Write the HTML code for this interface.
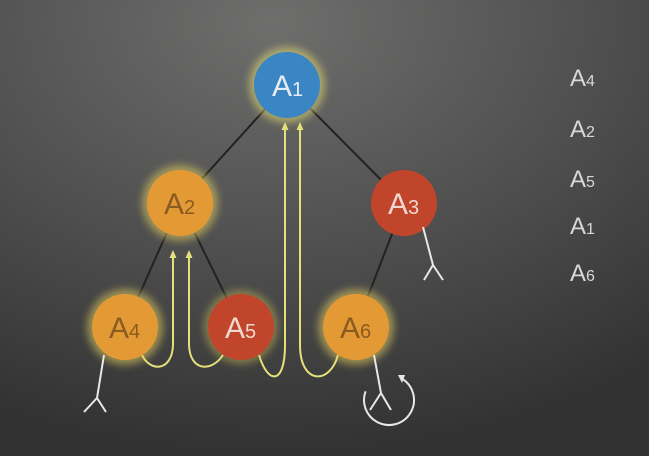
<!DOCTYPE html>
<html><head><meta charset="utf-8"><style>
html,body{margin:0;padding:0;width:649px;height:456px;overflow:hidden;background:#3a3b3a}
svg{display:block}
text{font-family:"Liberation Sans",sans-serif}
</style></head><body>
<svg width="649" height="456" viewBox="0 0 649 456">
<defs>
<radialGradient id="bg" cx="0.42" cy="0.05" r="0.95">
<stop offset="0" stop-color="#6e6e6d"/><stop offset="0.55" stop-color="#4d4e4d"/><stop offset="1" stop-color="#313231"/>
</radialGradient>
<filter id="glow" x="-50%" y="-50%" width="200%" height="200%"><feGaussianBlur stdDeviation="4"/></filter>
<marker id="ah" markerUnits="userSpaceOnUse" markerWidth="8" markerHeight="8" refX="4" refY="4" orient="auto"><path d="M0,0.5 L8,4 L0,7.5 z" fill="#e6e07a"/></marker>
</defs>
<rect width="649" height="456" fill="url(#bg)"/>
<g stroke="#222" stroke-width="2">
<line x1="287" y1="85" x2="180" y2="203"/><line x1="287" y1="85" x2="404" y2="203"/>
<line x1="180" y1="203" x2="125" y2="327"/><line x1="180" y1="203" x2="241" y2="327"/>
<line x1="404" y1="203" x2="356" y2="327"/>
</g>
<g fill="none" stroke="#e6e07a" stroke-width="2" marker-end="url(#ah)">
<path d="M142,355 C150,372 172,372 173,345 L173,254"/>
<path d="M223,355 C212,372 190,372 189,345 L189,254"/>
<path d="M259,355 C268,385 285,385 285,345 L285,126"/>
<path d="M338,355 C330,385 300,385 300,345 L300,126"/>
</g>
<g>
<g><circle cx="287" cy="85" r="38" fill="#e8e070" opacity="0.55" filter="url(#glow)"/><circle cx="287" cy="85" r="33" fill="#3a86c4"/><text x="272" y="96" font-size="30" fill="#e8ecf2">A<tspan font-size="20">1</tspan></text></g>
<g><circle cx="180" cy="203" r="38" fill="#e8d060" opacity="0.55" filter="url(#glow)"/><circle cx="180" cy="203" r="33" fill="#e39a35"/><text x="164" y="214" font-size="30" fill="#8a5a20">A<tspan font-size="20">2</tspan></text></g>
<g><circle cx="404" cy="203" r="33" fill="#c0452a"/><text x="388" y="214" font-size="30" fill="#f0d8d0">A<tspan font-size="20">3</tspan></text></g>
<g><circle cx="125" cy="327" r="38" fill="#e8d060" opacity="0.55" filter="url(#glow)"/><circle cx="125" cy="327" r="33" fill="#e39a35"/><text x="109" y="338" font-size="30" fill="#8a5a20">A<tspan font-size="20">4</tspan></text></g>
<g><circle cx="241" cy="327" r="37" fill="#e8d060" opacity="0.4" filter="url(#glow)"/><circle cx="241" cy="327" r="33" fill="#c0452a"/><text x="225" y="338" font-size="30" fill="#f0d8d0">A<tspan font-size="20">5</tspan></text></g>
<g><circle cx="356" cy="327" r="38" fill="#e8d060" opacity="0.55" filter="url(#glow)"/><circle cx="356" cy="327" r="33" fill="#e39a35"/><text x="340" y="338" font-size="30" fill="#8a5a20">A<tspan font-size="20">6</tspan></text></g>
</g>
<g fill="none" stroke="#e8e8e8" stroke-width="2">
<path d="M104,355 L97,398 M97,398 L84,412 M97,398 L106,412"/>
<path d="M423,227 L433,265 M433,265 L424,280 M433,265 L443,280"/>
<path d="M374,355 L381,393 M381,393 L370,410 M381,393 L391,410"/>
<circle cx="389" cy="400" r="25" stroke-dasharray="113.4 200" transform="rotate(-60 389 400)"/>
</g>
<path d="M398,375 L405,375 L402,383 z" fill="#e8e8e8"/>
<g font-size="24" fill="#d8d8d8">
<text x="570" y="86">A<tspan font-size="16">4</tspan></text>
<text x="570" y="137">A<tspan font-size="16">2</tspan></text>
<text x="570" y="187">A<tspan font-size="16">5</tspan></text>
<text x="570" y="234">A<tspan font-size="16">1</tspan></text>
<text x="570" y="281">A<tspan font-size="16">6</tspan></text>
</g>
</svg>
</body></html>
